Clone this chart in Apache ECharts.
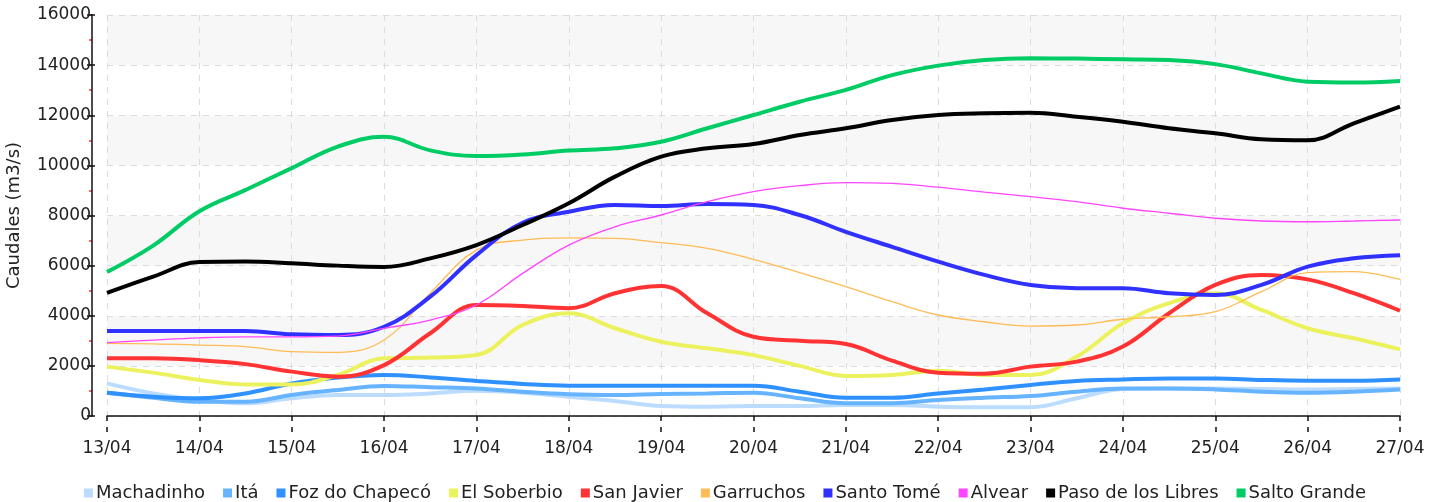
<!DOCTYPE html>
<html>
<head>
<meta charset="utf-8">
<script src="https://cdn.jsdelivr.net/npm/echarts@6/dist/echarts.min.js"></script>
<style>html,body{margin:0;padding:0;background:#fff}#c{width:1450px;height:502px}</style>
</head>
<body>
<div id="c"></div>
<script>
// Day offsets from 13/04 (half-day steps)
const days = [0,0.5,1,1.5,2,2.5,3,3.5,4,4.5,5,5.5,6,6.5,7,7.5,8,8.5,9,9.5,10,10.5,11,11.5,12,12.5,13,13.5,14];
const dayLabels = ['13/04','14/04','15/04','16/04','17/04','18/04','19/04','20/04','21/04','22/04','23/04','24/04','25/04','26/04','27/04'];
const yTicks = [0,2000,4000,6000,8000,10000,12000,14000,16000];

const machadinho = [1300,900,640,510,710,840,840,900,1010,930,770,600,400,370,400,400,440,440,370,350,350,710,1080,1100,1100,1080,1060,1080,1100];
const ita        = [930,730,570,570,840,1040,1200,1150,1100,970,870,840,880,900,930,710,510,510,640,730,800,970,1100,1100,1060,970,930,970,1060];
const foz        = [930,770,710,900,1300,1540,1640,1540,1400,1280,1210,1210,1210,1210,1210,970,730,730,900,1060,1240,1400,1460,1500,1500,1440,1410,1410,1460];
const soberbio   = [1970,1730,1440,1260,1260,1640,2300,2330,2430,3630,4100,3500,2960,2700,2430,2000,1600,1640,1810,1640,1640,2370,3700,4500,4900,4230,3500,3100,2660];
const sanJavier  = [2300,2300,2230,2070,1770,1570,2030,3300,4430,4390,4300,4900,5190,4100,3160,3000,2870,2210,1730,1690,1970,2170,2770,4100,5230,5630,5450,4900,4200];
const garruchos  = [2900,2880,2830,2770,2570,2540,3030,4900,6620,7020,7110,7090,6920,6690,6250,5720,5160,4560,4030,3760,3590,3630,3860,3960,4160,4960,5720,5760,5450];
const santoTome  = [3390,3390,3390,3390,3260,3230,3560,4760,6420,7710,8150,8420,8380,8460,8420,8020,7350,6750,6160,5630,5230,5100,5100,4900,4830,5230,5960,6290,6410];
const alvear     = [2925,3030,3120,3160,3160,3190,3500,3830,4430,5690,6820,7550,8020,8550,8950,9190,9310,9280,9130,8930,8750,8550,8290,8090,7890,7780,7750,7780,7820];
const pasoLibres = [4910,5560,6140,6160,6090,6000,5950,6290,6820,7620,8490,9550,10350,10680,10850,11210,11480,11810,12010,12080,12100,11940,11740,11480,11280,11040,11000,11680,12340];
const saltoGrande= [5745,6800,8170,9020,9890,10750,11140,10600,10370,10430,10590,10680,10940,11480,12010,12540,13010,13600,13980,14200,14270,14260,14230,14200,14040,13670,13340,13310,13370];

const seriesDefs = [
  {name:'Machadinho', data:machadinho, color:'#bcdcff', w:4},
  {name:'Itá', data:ita, color:'#66b3ff', w:4},
  {name:'Foz do Chapecó', data:foz, color:'#2f91ff', w:4},
  {name:'El Soberbio', data:soberbio, color:'#ebf25e', w:4},
  {name:'San Javier', data:sanJavier, color:'#ff3333', w:4},
  {name:'Garruchos', data:garruchos, color:'#ffbb55', w:1.3},
  {name:'Santo Tomé', data:santoTome, color:'#3030ff', w:4},
  {name:'Alvear', data:alvear, color:'#ff44ff', w:1.3},
  {name:'Paso de los Libres', data:pasoLibres, color:'#000000', w:4},
  {name:'Salto Grande', data:saltoGrande, color:'#00cc66', w:4}
];

const chart = echarts.init(document.getElementById('c'), null, {renderer:'canvas'});
const font = 'DejaVu Sans';
chart.setOption({
  animation:false,
  backgroundColor:'#fff',
  grid:[
    {left:92, top:15, bottom:86, width:10, containLabel:false, outerBoundsMode:'none'},
    {left:107, right:50, top:15, bottom:86, containLabel:false, outerBoundsMode:'none'}
  ],
  legend:{
    top:479, left:'center', itemWidth:9, itemHeight:9, itemGap:18,
    icon:'rect',
    textStyle:{fontFamily:font, fontSize:18, color:'#222', padding:[0,0,0,-2]},
    data:seriesDefs.map(s=>s.name)
  },
  xAxis:[{
    gridIndex:0, type:'value', min:0, max:1, show:false
  },{
    gridIndex:1, type:'value', min:0, max:14, interval:1, offset:16,
    axisLine:{show:true, lineStyle:{color:'#111', width:1.5}},
    axisTick:{show:true, length:5, lineStyle:{color:'#111', width:1.5}},
    axisLabel:{fontFamily:font, fontSize:17, color:'#222', margin:8, formatter:v=>dayLabels[v]||''},
    splitLine:{show:true, lineStyle:{color:'#dcdcdc', type:[6,6], width:1}}
  },{
    gridIndex:1, type:'value', min:0, max:14, interval:1, offset:16, position:'bottom',
    axisLine:{show:false},
    axisTick:{show:true, inside:true, length:5, lineStyle:{color:'#111', width:1.5}},
    axisLabel:{show:false}, splitLine:{show:false}
  }],
  yAxis:[{
    // red minor ticks every 1000
    gridIndex:0, type:'value', min:0, max:16000, interval:1000, position:'left', z:-1,
    axisLine:{show:false},
    axisTick:{show:true, length:3, lineStyle:{color:'#ff3333', width:1.5}},
    axisLabel:{show:false}, splitLine:{show:false}, splitArea:{show:false}
  },{
    gridIndex:0, type:'value', min:0, max:16000, interval:2000, position:'left', z:0,
    name:'Caudales (m3/s)', nameLocation:'middle', nameGap:69, nameRotate:90,
    nameTextStyle:{fontFamily:font, fontSize:18, color:'#222'},
    axisLine:{show:true, lineStyle:{color:'#111', width:1.5}},
    axisTick:{show:true, length:5, lineStyle:{color:'#111', width:1.5}},
    axisLabel:{fontFamily:font, fontSize:17, color:'#222', margin:1, formatter:v=>String(v)},
    splitLine:{show:false}, splitArea:{show:false}
  },{
    // inward half of the major ticks
    gridIndex:0, type:'value', min:0, max:16000, interval:2000, position:'left', z:0,
    axisLine:{show:false},
    axisTick:{show:true, inside:true, length:3, lineStyle:{color:'#111', width:1.5}},
    axisLabel:{show:false}, splitLine:{show:false}, splitArea:{show:false}
  },{
    gridIndex:1, type:'value', min:0, max:16000, interval:2000,
    axisLine:{show:false}, axisTick:{show:false}, axisLabel:{show:false},
    splitLine:{show:true, lineStyle:{color:'#dcdcdc', type:[6,6], width:1}},
    splitArea:{show:true, areaStyle:{color:['#ffffff','#f7f7f7']}}
  }],
  series:seriesDefs.map(s=>({
    name:s.name, type:'line', xAxisIndex:1, yAxisIndex:3, showSymbol:false, symbol:'none', smooth:0.4,
    color:s.color, lineStyle:{color:s.color, width:s.w},
    data:days.map((d,i)=>[d, s.data[i]])
  }))
});
</script>
</body>
</html>
